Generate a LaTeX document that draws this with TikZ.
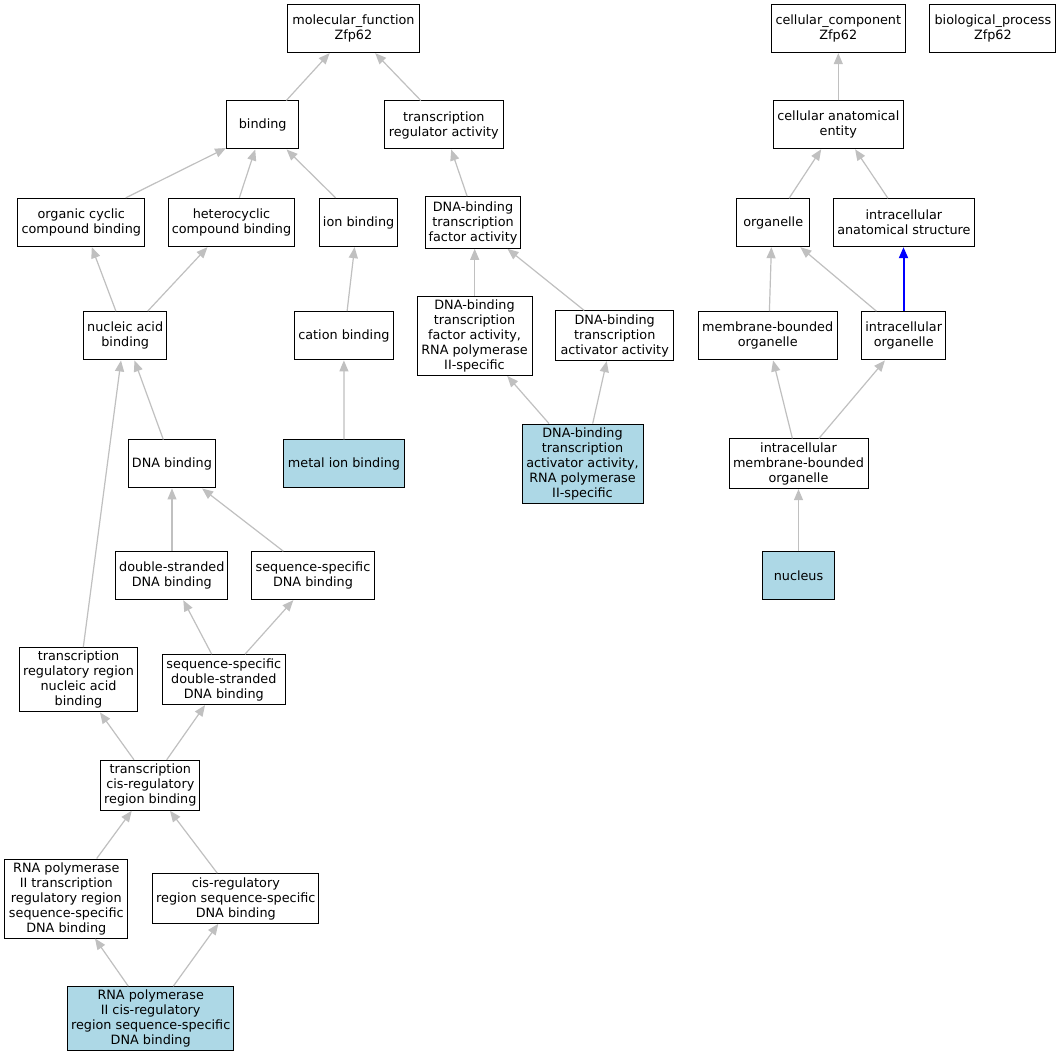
\documentclass[tikz,border=0pt]{standalone}
\usepackage{fontspec}
\setmainfont{DejaVu Sans}
\usetikzlibrary{arrows.meta}
\definecolor{edgegray}{RGB}{192,192,192}
\definecolor{nodeblue}{RGB}{173,216,230}
\definecolor{edgeblue}{RGB}{0,0,255}
\tikzset{
  gobox/.style={draw=black, line width=1pt, fill=white, inner sep=0pt, align=center,
    font=\fontsize{12.8}{15}\selectfont},
  hit/.style={gobox, fill=nodeblue},
  goedge/.style={color=edgegray, line width=1.2pt, -{Triangle[length=11pt,width=9pt]}},
  blueedge/.style={color=edgeblue, line width=2pt, -{Triangle[length=11pt,width=9pt]}},
}
\begin{document}
\begin{tikzpicture}[x=1pt,y=-1pt]
\useasboundingbox[fill=white] (0,0) rectangle (1061,1056);
% rank 1
\node[gobox, minimum width=131.5, minimum height=47.7] (mf) at (353.4,28.8) {molecular\_function\\Zfp62};
\node[gobox, minimum width=133.8, minimum height=47.7] (cc) at (838.3,28.8) {cellular\_component\\Zfp62};
\node[gobox, minimum width=126, minimum height=47.7] (bp) at (992.9,28.8) {biological\_process\\Zfp62};
% rank 2
\node[gobox, minimum width=72.3, minimum height=48] (binding) at (262.7,125) {binding};
\node[gobox, minimum width=119, minimum height=48] (tra) at (443.8,125) {transcription\\regulator activity};
\node[gobox, minimum width=130.4, minimum height=48] (cae) at (838.3,124.8) {cellular anatomical\\entity};
% rank 3
\node[gobox, minimum width=126.8, minimum height=48.3] (occb) at (81.3,222.5) {organic cyclic\\compound binding};
\node[gobox, minimum width=125.7, minimum height=48.3] (hccb) at (231.5,222.5) {heterocyclic\\compound binding};
\node[gobox, minimum width=78.4, minimum height=48.3] (ionb) at (358.6,222.5) {ion binding};
\node[gobox, minimum width=95, minimum height=51.7] (dtfa) at (473,222.5) {DNA-binding\\transcription\\factor activity};
\node[gobox, minimum width=72.5, minimum height=48] (org) at (773.2,222.7) {organelle};
\node[gobox, minimum width=141.5, minimum height=48] (ias) at (903.9,222.7) {intracellular\\anatomical structure};
% rank 4
\node[gobox, minimum width=82.8, minimum height=48.3] (nab) at (125.2,335.8) {nucleic acid\\binding};
\node[gobox, minimum width=99, minimum height=48.3] (cationb) at (343.9,335.8) {cation binding};
\node[gobox, minimum width=115, minimum height=79] (dtfa2) at (474.5,336) {DNA-binding\\transcription\\factor activity,\\RNA polymerase\\II-specific};
\node[gobox, minimum width=118, minimum height=49.7] (dtaa) at (614.7,335.8) {DNA-binding\\transcription\\activator activity};
\node[gobox, minimum width=138.8, minimum height=48.3] (mbo) at (767.7,335.8) {membrane-bounded\\organelle};
\node[gobox, minimum width=83.6, minimum height=48.3] (io) at (903.7,335.8) {intracellular\\organelle};
% rank 5
\node[gobox, minimum width=86.2, minimum height=48] (dnab) at (171.9,464) {DNA binding};
\node[hit, minimum width=120.7, minimum height=48] (metal) at (344,464) {metal ion binding};
\node[hit, minimum width=121, minimum height=79.3] (dtaa2) at (582.5,463.7) {DNA-binding\\transcription\\activator activity,\\RNA polymerase\\II-specific};
\node[gobox, minimum width=139, minimum height=49.7] (imbo) at (798.5,463.8) {intracellular\\membrane-bounded\\organelle};
% rank 6
\node[gobox, minimum width=112.3, minimum height=48] (dsdb) at (171.8,575.7) {double-stranded\\DNA binding};
\node[gobox, minimum width=123.4, minimum height=48] (ssdb) at (313,575.7) {sequence-specific\\DNA binding};
\node[hit, minimum width=72.5, minimum height=48.3] (nucleus) at (798.5,575.8) {nucleus};
% rank 7
\node[gobox, minimum width=118.3, minimum height=64.3] (trrnab) at (78.5,679.8) {transcription\\regulatory region\\nucleic acid\\binding};
\node[gobox, minimum width=123, minimum height=50] (ssds) at (223.8,679.7) {sequence-specific\\double-stranded\\DNA binding};
% rank 8
\node[gobox, minimum width=99.3, minimum height=50] (tcis) at (150.3,785.3) {transcription\\cis-regulatory\\region binding};
% rank 9
\node[gobox, minimum width=123.3, minimum height=79] (rnap2trr) at (66.3,898.5) {RNA polymerase\\II transcription\\regulatory region\\sequence-specific\\DNA binding};
\node[gobox, minimum width=166.3, minimum height=49.6] (crss) at (235.8,898.5) {cis-regulatory\\region sequence-specific\\DNA binding};
% rank 10
\node[hit, minimum width=166, minimum height=64] (rnap2cis) at (150.7,1018.7) {RNA polymerase\\II cis-regulatory\\region sequence-specific\\DNA binding};

% edges
\draw[goedge] ([xshift=23.6]binding.north) -- ([xshift=-23.8]mf.south);
\draw[goedge] ([xshift=-23]tra.north) -- ([xshift=21.8]mf.south);
\draw[goedge] ([xshift=44.4]occb.north) -- ([yshift=1.5]binding.south west);
\draw[goedge] ([xshift=7.8]hccb.north) -- ([xshift=-7.5]binding.south);
\draw[goedge] ([xshift=-23]ionb.north) -- ([xshift=23.9]binding.south);
\draw[goedge] ([xshift=-5.9]dtfa.north) -- ([xshift=7.4]tra.south);
\draw[goedge] ([xshift=-9.3]nab.north) -- ([xshift=10.5]occb.south);
\draw[goedge] ([xshift=22.5]nab.north) -- ([xshift=-24]hccb.south);
\draw[goedge] ([xshift=3.2]cationb.north) -- ([xshift=-4]ionb.south);
\draw[goedge] ([xshift=0.2]dtfa2.north) -- ([xshift=1.7]dtfa.south);
\draw[goedge] ([xshift=-30.5]dtaa.north) -- ([xshift=34.5]dtfa.south);
\draw[goedge] ([xshift=-8.6]dnab.north) -- ([xshift=9.3]nab.south);
\draw[goedge] (metal.north) -- (cationb.south);
\draw[goedge] ([xshift=-33.5]dtaa2.north) -- ([xshift=32.8]dtfa2.south);
\draw[goedge] ([xshift=10.2]dtaa2.north) -- ([xshift=-8]dtaa.south);
\draw[goedge] ([xshift=0.2]dsdb.north) -- ([xshift=0.1]dnab.south);
\draw[goedge] ([xshift=-29.7]ssdb.north) -- ([xshift=30.2]dnab.south);
\draw[goedge] ([xshift=4.8]trrnab.north) -- ([xshift=-4.2]nab.south);
\draw[goedge] ([xshift=-12.1]ssds.north) -- ([xshift=11.5]dsdb.south);
\draw[goedge] ([xshift=21.2]ssds.north) -- ([xshift=-19.7]ssdb.south);
\draw[goedge] ([xshift=-16.3]tcis.north) -- ([xshift=21.5]trrnab.south);
\draw[goedge] ([xshift=16.4]tcis.north) -- ([xshift=-18.8]ssds.south);
\draw[goedge] ([xshift=30.4]rnap2trr.north) -- ([xshift=-18.6]tcis.south);
\draw[goedge] ([xshift=-18.5]crss.north) -- ([xshift=19.7]tcis.south);
\draw[goedge] ([xshift=-22.4]rnap2cis.north) -- ([xshift=28.7]rnap2trr.south);
\draw[goedge] ([xshift=22.6]rnap2cis.north) -- ([xshift=-17.5]crss.south);
\draw[goedge] (cae.north) -- (cc.south);
\draw[goedge] ([xshift=15.9]org.north) -- ([xshift=-17.1]cae.south);
\draw[goedge] ([xshift=-16]ias.north) -- ([xshift=16.8]cae.south);
\draw[goedge] ([xshift=1.7]mbo.north) -- ([xshift=-1.8]org.south);
\draw[goedge] ([xshift=-27.3]io.north) -- ([xshift=27.2]org.south);
\draw[blueedge] ([xshift=-0.2]io.north) -- ([xshift=-0.4]ias.south);
\draw[goedge] ([xshift=-6.1]imbo.north) -- ([xshift=5.4]mbo.south);
\draw[goedge] ([xshift=20.4]imbo.north) -- ([xshift=-18.8]io.south);
\draw[goedge] (nucleus.north) -- (imbo.south);
\end{tikzpicture}
\end{document}
